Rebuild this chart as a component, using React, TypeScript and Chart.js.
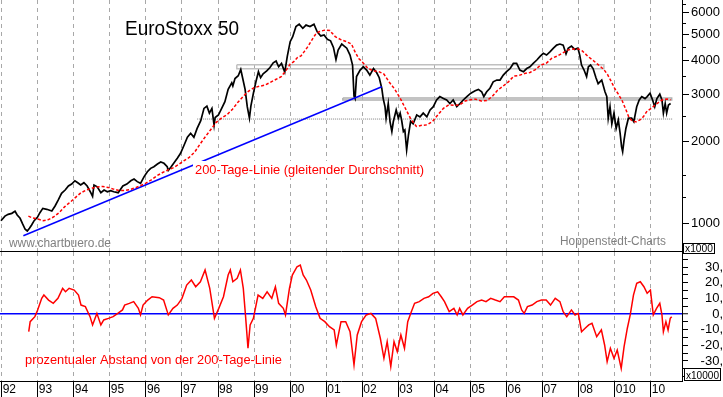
import React, { useEffect, useRef } from "react";
import { Chart, registerables } from "chart.js";

Chart.register(...registerables);

// ---------- data ----------
const yearTicks = [1992, 1993, 1994, 1995, 1996, 1997, 1998, 1999, 2000, 2001, 2002, 2003, 2004, 2005, 2006, 2007, 2008, 2009, 2010];
const yearLabels = ["92", "93", "94", "95", "96", "97", "98", "99", "00", "01", "02", "03", "04", "05", "06", "07", "08", "010", "10"];

const priceMajorTicks = [1000, 2000, 3000, 4000, 5000, 6000];
const priceMinorTicks = [1250, 1500, 2500, 3500, 4500, 5500, 6500];
const pctTicks = [-40, -35, -30, -25, -20, -15, -10, -5, 0, 5, 10, 15, 20, 25, 30, 35];
const pctLabeled = [-30, -20, -10, 0, 10, 20, 30];

// EuroStoxx 50 daily close [year, index]
const pricePoints: [number, number][] = [
  [1991.98, 1020], [1992.09, 1061], [1992.18, 1077], [1992.28, 1086], [1992.37, 1105], [1992.43, 1071], [1992.51, 1041], [1992.58, 992], [1992.65, 948], [1992.71, 934], [1992.77, 956], [1992.83, 983], [1992.9, 1020], [1992.99, 1050],
  [1993.06, 1092], [1993.14, 1133], [1993.25, 1124], [1993.39, 1108], [1993.48, 1156], [1993.57, 1217], [1993.66, 1288], [1993.76, 1325], [1993.85, 1371], [1993.94, 1394],
  [1994.03, 1434], [1994.11, 1410], [1994.19, 1383], [1994.28, 1410], [1994.37, 1371], [1994.47, 1295], [1994.52, 1255], [1994.56, 1383], [1994.65, 1362], [1994.75, 1295], [1994.84, 1325], [1994.93, 1306],
  [1995.02, 1318], [1995.11, 1306], [1995.23, 1295], [1995.36, 1371], [1995.47, 1394], [1995.58, 1434], [1995.67, 1455], [1995.76, 1423], [1995.85, 1403], [1995.95, 1485],
  [1996.04, 1548], [1996.13, 1594], [1996.22, 1617], [1996.32, 1654], [1996.41, 1683], [1996.5, 1664], [1996.59, 1617], [1996.62, 1565], [1996.69, 1608], [1996.78, 1673], [1996.87, 1737], [1996.96, 1812],
  [1997.06, 1945], [1997.15, 2078], [1997.24, 2150], [1997.33, 2078], [1997.42, 2240], [1997.52, 2393], [1997.61, 2658], [1997.69, 2710], [1997.76, 2553], [1997.83, 2658], [1997.89, 2300], [1997.92, 2460],
  [1998.01, 2512], [1998.1, 2658], [1998.19, 2813], [1998.28, 3130], [1998.38, 3306], [1998.41, 3220], [1998.47, 3430], [1998.56, 3510], [1998.63, 3703], [1998.68, 3452], [1998.75, 3126], [1998.81, 2696], [1998.87, 2444], [1998.91, 2710], [1998.98, 3025],
  [1999.05, 3334], [1999.12, 3635], [1999.18, 3452], [1999.25, 3567], [1999.35, 3658], [1999.44, 3764], [1999.53, 3918], [1999.61, 3980], [1999.68, 3790], [1999.76, 3900], [1999.85, 3620], [1999.92, 4140],
  [2000.0, 4695], [2000.07, 4900], [2000.16, 5340], [2000.25, 5450], [2000.35, 5260], [2000.44, 5408], [2000.55, 5340], [2000.66, 5450], [2000.75, 5110], [2000.85, 4930], [2000.94, 4969],
  [2001.03, 4790], [2001.12, 4730], [2001.2, 4470], [2001.27, 4030], [2001.33, 4372], [2001.43, 4600], [2001.57, 4440], [2001.66, 4188], [2001.73, 3846], [2001.77, 2950], [2001.8, 2890], [2001.84, 3486], [2001.94, 3686],
  [2002.03, 3790], [2002.12, 3686], [2002.21, 3531], [2002.31, 3734], [2002.4, 3600], [2002.47, 3452], [2002.54, 3157], [2002.58, 2890], [2002.63, 2696], [2002.66, 2444], [2002.72, 2771], [2002.77, 2371], [2002.82, 2180], [2002.86, 2371], [2002.94, 2622],
  [2003.0, 2444], [2003.05, 2553], [2003.09, 2407], [2003.14, 2180], [2003.18, 2210], [2003.23, 1864], [2003.28, 2118], [2003.34, 2380], [2003.41, 2330], [2003.51, 2512], [2003.6, 2472], [2003.69, 2553], [2003.79, 2472], [2003.88, 2622], [2003.97, 2696],
  [2004.06, 2855], [2004.15, 2940], [2004.25, 2890], [2004.34, 2855], [2004.43, 2771], [2004.52, 2855], [2004.62, 2696], [2004.71, 2771], [2004.8, 2855], [2004.9, 2940],
  [2005.01, 3025], [2005.13, 3087], [2005.22, 3126], [2005.31, 3063], [2005.37, 2940], [2005.45, 3063], [2005.54, 3157], [2005.63, 3334], [2005.73, 3385], [2005.82, 3385], [2005.91, 3531],
  [2006.0, 3635], [2006.1, 3734], [2006.19, 3900], [2006.28, 3900], [2006.37, 3686], [2006.47, 3635], [2006.56, 3734], [2006.65, 3790], [2006.74, 3900], [2006.84, 4015], [2006.93, 4140],
  [2007.02, 4250], [2007.11, 4188], [2007.21, 4311], [2007.3, 4440], [2007.39, 4560], [2007.48, 4600], [2007.57, 4560], [2007.65, 4231], [2007.71, 4440], [2007.8, 4520], [2007.89, 4395], [2007.98, 4440],
  [2008.03, 4188], [2008.08, 3846], [2008.15, 3686], [2008.22, 3486], [2008.27, 3790], [2008.33, 3846], [2008.4, 3734], [2008.48, 3452], [2008.54, 3283], [2008.64, 3385], [2008.73, 3063], [2008.78, 2940], [2008.82, 2444], [2008.87, 2696], [2008.92, 2330], [2008.98, 2553],
  [2009.04, 2240], [2009.1, 2407], [2009.15, 2150], [2009.19, 1918], [2009.22, 1837], [2009.26, 2030], [2009.31, 2240], [2009.38, 2444], [2009.47, 2444], [2009.53, 2371], [2009.61, 2696], [2009.68, 2855], [2009.75, 2940], [2009.84, 2890], [2009.9, 2940], [2009.98, 3025],
  [2010.05, 2855], [2010.11, 2696], [2010.17, 2890], [2010.25, 3000], [2010.31, 2855], [2010.35, 2553], [2010.4, 2771], [2010.44, 2553], [2010.49, 2735], [2010.55, 2771],
];

// 200-Tage-Linie (moving average) [year, index]
const maPoints: [number, number][] = [
  [1992.74, 1060], [1992.85, 1045], [1993.0, 1035], [1993.15, 1020], [1993.3, 1030], [1993.45, 1055], [1993.6, 1095], [1993.75, 1150], [1993.9, 1195],
  [1994.05, 1245], [1994.2, 1295], [1994.35, 1325], [1994.5, 1345], [1994.65, 1360], [1994.8, 1365], [1994.95, 1355],
  [1995.1, 1335], [1995.25, 1320], [1995.4, 1320], [1995.55, 1330], [1995.7, 1350], [1995.85, 1375],
  [1996.0, 1405], [1996.15, 1445], [1996.3, 1495], [1996.45, 1535], [1996.6, 1570], [1996.75, 1600], [1996.9, 1645],
  [1997.05, 1700], [1997.2, 1750], [1997.35, 1830], [1997.5, 1960], [1997.65, 2090], [1997.8, 2220], [1997.95, 2360],
  [1998.1, 2450], [1998.25, 2520], [1998.4, 2640], [1998.55, 2800], [1998.7, 2950], [1998.85, 3080],
  [1999.0, 3170], [1999.15, 3210], [1999.3, 3240], [1999.45, 3320], [1999.6, 3400], [1999.75, 3480], [1999.9, 3700],
  [2000.0, 3880], [2000.1, 3960], [2000.2, 4100], [2000.3, 4160], [2000.4, 4330], [2000.5, 4520], [2000.6, 4760], [2000.7, 4990], [2000.8, 5110], [2000.95, 5180],
  [2001.1, 5160], [2001.25, 4900], [2001.4, 4780], [2001.55, 4700], [2001.7, 4600], [2001.8, 4300], [2001.9, 4070],
  [2002.0, 3950], [2002.15, 3750], [2002.3, 3660], [2002.45, 3640], [2002.6, 3560], [2002.75, 3320], [2002.9, 3130],
  [2003.05, 2900], [2003.2, 2650], [2003.35, 2420], [2003.5, 2280], [2003.65, 2300], [2003.8, 2310], [2003.95, 2380],
  [2004.1, 2520], [2004.25, 2660], [2004.4, 2740], [2004.55, 2730], [2004.7, 2740], [2004.85, 2830],
  [2005.0, 2860], [2005.15, 2875], [2005.3, 2830], [2005.45, 2840], [2005.6, 2940], [2005.75, 3100], [2005.9, 3210],
  [2006.05, 3330], [2006.2, 3500], [2006.35, 3520], [2006.5, 3580], [2006.65, 3610], [2006.8, 3700], [2006.95, 3850],
  [2007.1, 3900], [2007.25, 4070], [2007.4, 4150], [2007.55, 4260], [2007.7, 4370], [2007.85, 4410],
  [2008.0, 4410], [2008.1, 4340], [2008.25, 4150], [2008.4, 4000], [2008.55, 3850], [2008.7, 3700], [2008.8, 3550], [2008.9, 3350],
  [2009.0, 3150], [2009.1, 3000], [2009.2, 2850], [2009.3, 2650], [2009.4, 2450], [2009.5, 2380], [2009.6, 2370], [2009.7, 2410], [2009.8, 2480], [2009.9, 2600],
  [2010.0, 2650], [2010.1, 2720], [2010.25, 2820], [2010.35, 2870], [2010.45, 2880], [2010.55, 2860],
];

// prozentualer Abstand von der 200-Tage-Linie [year, %]
const pctPoints: [number, number][] = [
  [1992.75, -11.3], [1992.79, -4.9], [1992.92, -1.7], [1992.98, 1.5], [1993.11, 10], [1993.17, 12.1], [1993.3, 8.9], [1993.43, 6.8], [1993.56, 10], [1993.69, 16.4], [1993.77, 14.2], [1993.87, 16.4],
  [1994.01, 15.3], [1994.13, 12.1], [1994.2, 5.7], [1994.32, 4.7], [1994.45, -1.7], [1994.52, -7], [1994.64, 0.4], [1994.75, -7], [1994.83, -3.8], [1994.96, -2.8],
  [1995.09, -1.7], [1995.22, 0.4], [1995.35, 2.6], [1995.41, 5.7], [1995.54, 6.8], [1995.66, 7.9], [1995.79, 3.6], [1995.85, -0.6], [1995.92, 5.7],
  [1996.05, 8.9], [1996.17, 11], [1996.37, 10.4], [1996.49, 8.9], [1996.62, -0.6], [1996.75, 3.6], [1996.87, 5.7],
  [1997.0, 10], [1997.13, 18.5], [1997.26, 21.7], [1997.38, 17.4], [1997.51, 20.6], [1997.64, 28.1], [1997.77, 16.4], [1997.9, -2.8],
  [1998.02, 3.6], [1998.15, 11], [1998.28, 24.9], [1998.34, 28.1], [1998.41, 20.6], [1998.53, 22.8], [1998.62, 28.1], [1998.7, 16.4], [1998.76, -0.6], [1998.83, -21.9], [1998.89, -7], [1998.98, -2.8],
  [1999.11, 12.1], [1999.24, 10], [1999.36, 14.2], [1999.49, 10], [1999.59, 17.4], [1999.68, 6.8], [1999.81, 3.6], [1999.87, -0.6], [1999.98, 16.4],
  [2000.06, 24.9], [2000.19, 30.2], [2000.28, 31.3], [2000.36, 24.9], [2000.45, 21.7], [2000.57, 15.3], [2000.71, 4.7], [2000.83, -2.8], [2000.96, -4.9],
  [2001.09, -8.1], [2001.22, -10.2], [2001.28, -19.8], [2001.41, -4.9], [2001.54, -4.9], [2001.66, -11.3], [2001.77, -32.5], [2001.86, -13.4], [2001.98, -4.9],
  [2002.11, -0.6], [2002.24, 0.4], [2002.37, -2.8], [2002.5, -15.5], [2002.6, -28.3], [2002.69, -17.7], [2002.79, -33.6], [2002.88, -17.7], [2002.97, -24.1],
  [2003.07, -13.4], [2003.17, -21.9], [2003.26, -4.9], [2003.36, 1.5], [2003.45, 6.8], [2003.58, 7.9], [2003.71, 10], [2003.84, 11], [2003.96, 13.2],
  [2004.09, 14.2], [2004.19, 11], [2004.28, 7.9], [2004.41, 1.5], [2004.54, 3.6], [2004.63, -0.6], [2004.7, 3.6], [2004.79, -0.6], [2004.92, 3.6],
  [2005.05, 5.7], [2005.18, 7.9], [2005.31, 8.9], [2005.43, 7.9], [2005.56, 10], [2005.69, 8.9], [2005.82, 7.9], [2005.94, 11],
  [2006.07, 11], [2006.2, 11], [2006.33, 8.9], [2006.42, 2.6], [2006.49, 0.4], [2006.58, 4.7], [2006.71, 5.7], [2006.84, 7.9], [2006.97, 8.9],
  [2007.1, 8.9], [2007.22, 5.7], [2007.35, 10], [2007.48, 7.9], [2007.57, 1.5], [2007.67, -1.7], [2007.8, 2.6], [2007.9, -0.6], [2007.99, 0.4],
  [2008.08, -11.3], [2008.18, -9.1], [2008.28, -7], [2008.37, -5.9], [2008.5, -14.5], [2008.63, -10.2], [2008.72, -19.8], [2008.79, -30.4], [2008.88, -21.9], [2008.98, -28.3],
  [2009.07, -23], [2009.18, -34.7], [2009.26, -20.9], [2009.35, -9.1], [2009.43, -0.6], [2009.52, 12.1], [2009.61, 19.6], [2009.71, 20.6], [2009.81, 17.4], [2009.9, 13.2], [2009.99, 15.3],
  [2010.07, -0.6], [2010.16, 3.6], [2010.25, 6.8], [2010.31, -0.6], [2010.35, -11.3], [2010.42, -4.9], [2010.48, -10.2], [2010.54, -2.8], [2010.58, -1.7],
];

// blue trend line [year, index]
const trendPoints: [number, number][] = [[1992.6, 897], [2002.54, 3196]];
// gray resistance / support zones: [startYear, endYear, upper, lower]
const upperZone = [1998.52, 2008.7, 3857, 3729];
const middleZone = [2001.46, 2010.58, 2904, 2855];
const supportLine = [1997.42, 2010.62, 2427];

// ---------- layout constants ----------
const X_MIN = 1991.953;
const X_MAX = 2010.866;
const Y_MIN = 787.7;
const Y_MAX = 6698;
const P_MIN = -42.8;
const P_MAX = 39.6;
const FONT = "'Liberation Sans', Arial, sans-serif";
const AXIS_W = 41;

const toXY = (pts: [number, number][]) => pts.map(([x, y]) => ({ x, y }));
const rect = (z: number[]) => [
  { x: z[0], y: z[2] }, { x: z[1], y: z[2] }, { x: z[1], y: z[3] }, { x: z[0], y: z[3] }, { x: z[0], y: z[2] },
];

function drawFitted(ctx: CanvasRenderingContext2D, text: string, x: number, y: number, w: number, font: string, color: string) {
  ctx.save();
  ctx.font = font;
  const m = ctx.measureText(text).width;
  ctx.translate(x, y);
  ctx.scale(w / m, 1);
  ctx.fillStyle = color;
  ctx.textBaseline = "alphabetic";
  ctx.textAlign = "left";
  ctx.fillText(text, 0, 0);
  ctx.restore();
}

function drawUnitBox(ctx: CanvasRenderingContext2D, x: number, y: number, w: number, h: number, text: string) {
  ctx.save();
  ctx.fillStyle = "#fff";
  ctx.fillRect(x, y, w, h);
  ctx.strokeStyle = "#000";
  ctx.lineWidth = 1;
  ctx.strokeRect(x + 0.5, y + 0.5, w - 1, h - 1);
  drawFitted(ctx, text, x + 2, y + h - 2.5, w - 4, `10px ${FONT}`, "#000");
  ctx.restore();
}

const xTicksBuilder = (s: any) => {
  s.ticks = yearTicks.map((v) => ({ value: v }));
};
const noPadX = (h: number) => (s: any) => {
  s.height = h;
  s.paddingLeft = 0;
  s.paddingRight = 0;
};
const noPadY = (s: any) => {
  s.width = AXIS_W;
  s.paddingTop = 0;
  s.paddingBottom = 0;
};

const topPlugin = {
  id: "topDecor",
  afterDraw(chart: any) {
    const ctx = chart.ctx as CanvasRenderingContext2D;
    const y = chart.scales.y;
    const right = chart.chartArea.right;
    ctx.save();
    ctx.strokeStyle = "#000";
    ctx.lineWidth = 1;
    for (const v of priceMinorTicks) {
      const py = Math.round(y.getPixelForValue(v)) + 0.5;
      ctx.beginPath();
      ctx.moveTo(right, py);
      ctx.lineTo(right + 4, py);
      ctx.stroke();
    }
    ctx.restore();

    drawFitted(ctx, "EuroStoxx 50", 125, 35, 114, `20px ${FONT}`, "#000");
    ctx.save();
    ctx.fillStyle = "#fff";
    ctx.fillRect(193, 161, 234, 17);
    ctx.restore();
    drawFitted(ctx, "200-Tage-Linie (gleitender Durchschnitt)", 195, 174, 229, `13px ${FONT}`, "#ff0000");
    drawFitted(ctx, "www.chartbuero.de", 9, 246.5, 102, `12px ${FONT}`, "#808080");
    drawFitted(ctx, "Hoppenstedt-Charts", 560, 245, 106, `12px ${FONT}`, "#808080");
    drawUnitBox(ctx, 683, 243, 32, 11, "x1000");
  },
};

const bottomPlugin = {
  id: "bottomDecor",
  afterDraw(chart: any) {
    const ctx = chart.ctx as CanvasRenderingContext2D;
    drawFitted(ctx, "prozentualer Abstand von der 200-Tage-Linie", 25, 111.5, 257, `12px ${FONT}`, "#ff0000");
    drawUnitBox(ctx, 684, 116, 37, 13, "x10000");
  },
};

export default function App() {
  const topRef = useRef<HTMLCanvasElement>(null);
  const botRef = useRef<HTMLCanvasElement>(null);

  useEffect(() => {
    const common = {
      animation: false as const,
      responsive: false,
      devicePixelRatio: 1,
      events: [] as any[],
      layout: { padding: 0 },
      plugins: { legend: { display: false }, tooltip: { enabled: false }, title: { display: false } },
      elements: { point: { radius: 0 }, line: { tension: 0 } },
    };

    const top = new Chart(topRef.current as HTMLCanvasElement, {
      type: "line",
      data: {
        datasets: [
          { data: toXY(maPoints), borderColor: "#ff0000", borderWidth: 1.5, borderDash: [3, 2], pointRadius: 0, fill: false },
          { data: toXY(trendPoints), borderColor: "#0000ff", borderWidth: 1.5, pointRadius: 0, fill: false },
          { data: toXY(pricePoints), borderColor: "#000000", borderWidth: 1.7, pointRadius: 0, fill: false },
          { data: rect(upperZone), borderColor: "#c0c0c0", borderWidth: 1.5, pointRadius: 0, fill: false },
          { data: rect(middleZone), borderColor: "#b0b0b0", borderWidth: 1.5, pointRadius: 0, fill: false },
          { data: [{ x: supportLine[0], y: supportLine[2] }, { x: supportLine[1], y: supportLine[2] }], borderColor: "#808080", borderWidth: 1, borderDash: [1, 1], pointRadius: 0, fill: false },
        ],
      },
      options: {
        ...common,
        scales: {
          x: {
            type: "linear",
            min: X_MIN,
            max: X_MAX,
            afterBuildTicks: xTicksBuilder,
            ticks: { display: false },
            grid: { color: "#a8a8a8", drawTicks: false, lineWidth: 1 },
            border: { display: true, color: "#000", width: 1, dash: [4, 4] },
            afterFit: noPadX(5),
          },
          y: {
            type: "logarithmic",
            position: "right",
            min: Y_MIN,
            max: Y_MAX,
            afterBuildTicks: (s: any) => { s.ticks = priceMajorTicks.map((v) => ({ value: v })); },
            ticks: { autoSkip: false, callback: (v: any) => String(v), font: { family: FONT, size: 13 }, color: "#000", padding: 2 },
            grid: { drawOnChartArea: false, tickLength: 7, tickColor: "#000", tickWidth: 1 },
            border: { display: true, color: "#000", width: 1 },
            afterFit: noPadY,
          },
        },
      } as any,
      plugins: [topPlugin],
    });

    const bottom = new Chart(botRef.current as HTMLCanvasElement, {
      type: "line",
      data: {
        datasets: [
          { data: toXY(pctPoints), borderColor: "#ff0000", borderWidth: 1.5, pointRadius: 0, fill: false },
        ],
      },
      options: {
        ...common,
        scales: {
          x: {
            type: "linear",
            min: X_MIN,
            max: X_MAX,
            afterBuildTicks: xTicksBuilder,
            ticks: {
              autoSkip: false,
              minRotation: 0,
              maxRotation: 0,
              align: "start",
              labelOffset: 1,
              padding: -15,
              font: { family: FONT, size: 12 },
              color: "#000",
              callback: (v: any) => {
                const i = yearTicks.indexOf(Number(v));
                return i >= 0 ? yearLabels[i] : "";
              },
            },
            grid: { color: "#a8a8a8", tickLength: 16, tickColor: "#000", tickWidth: 1, lineWidth: 1 },
            border: { display: true, color: "#000", width: 1, dash: [4, 4] },
            afterFit: noPadX(16),
          },
          y: {
            type: "linear",
            position: "right",
            min: P_MIN,
            max: P_MAX,
            afterBuildTicks: (s: any) => { s.ticks = pctTicks.map((v) => ({ value: v })); },
            ticks: {
              autoSkip: false,
              crossAlign: "far",
              padding: 9,
              font: { family: FONT, size: 13 },
              color: "#000",
              callback: (v: any) => (pctLabeled.includes(Number(v)) ? `${v},` : ""),
            },
            grid: {
              drawOnChartArea: true,
              color: (c: any) => (c.tick && c.tick.value === 0 ? "#0000ff" : "rgba(0,0,0,0)"),
              lineWidth: (c: any) => (c.tick && c.tick.value === 0 ? 1.5 : 1),
              tickLength: 6,
              tickColor: "#000",
              tickWidth: 1,
            },
            border: { display: true, color: "#000", width: 1 },
            afterFit: noPadY,
          },
        },
      } as any,
      plugins: [bottomPlugin],
    });

    return () => {
      top.destroy();
      bottom.destroy();
    };
  }, []);

  return (
    <div style={{ position: "fixed", left: 0, top: 0, width: 723, height: 397, background: "#fff", overflow: "hidden" }}>
      <canvas ref={topRef} width={723} height={256} style={{ position: "absolute", left: 0, top: 0, width: 723, height: 256 }} />
      <canvas ref={botRef} width={723} height={145} style={{ position: "absolute", left: 0, top: 252, width: 723, height: 145 }} />
    </div>
  );
}
